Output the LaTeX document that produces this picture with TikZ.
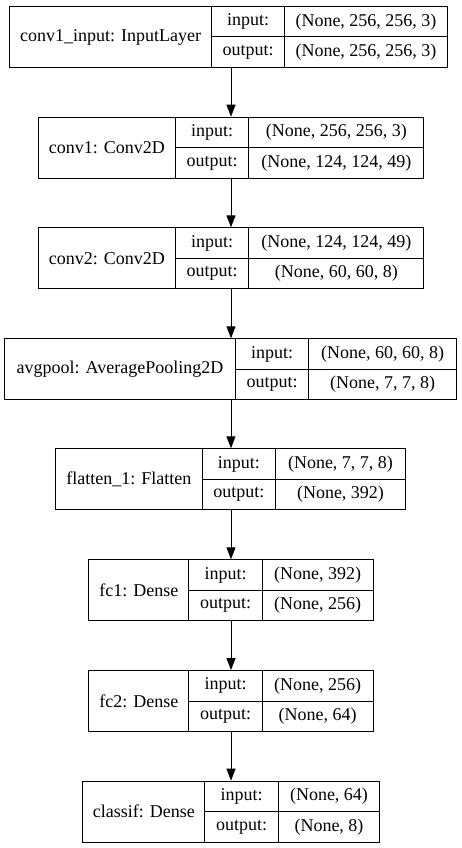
\documentclass[tikz,border=0pt]{standalone}
\usepackage{fontspec}
\setmainfont{Liberation Serif}
\usepackage{tikz}
\usetikzlibrary{arrows.meta}
\tikzset{cell/.style={draw, line width=1pt, inner sep=0pt, anchor=north west,
                      font=\fontsize{18}{20}\selectfont}}
% #1 name, #2 top, #3-#6 column edges, #7 layer, #8 input, #9 output
\newcommand{\layer}[9]{%
    \node[cell, minimum width={#4pt-#3pt}, minimum height=61pt] (#1) at (#3,#2) {#7};
    \node[cell, minimum width={#5pt-#4pt}, minimum height=30.5pt] (#1in) at (#4,#2) {input:};
    \node[cell, minimum width={#5pt-#4pt}, minimum height=30.5pt] (#1out) at (#4,#2+30.5) {output:};
    \node[cell, minimum width={#6pt-#5pt}, minimum height=30.5pt] (#1inv) at (#5,#2) {#8};
    \node[cell, minimum width={#6pt-#5pt}, minimum height=30.5pt] (#1outv) at (#5,#2+30.5) {#9};
    \coordinate (#1top) at (231,#2);
    \coordinate (#1bot) at (231,#2+61);
}
\tikzstyle{arrow} = [line width=1pt,->,>={Triangle[length=12pt,width=9pt]}]

\begin{document}
\begin{tikzpicture}[x=1pt,y=-1pt]
    \useasboundingbox (0,0) rectangle (461,848);

    \layer{input}{6}{9}{211}{284}{447}{conv1\_input: InputLayer}{(None, 256, 256, 3)}{(None, 256, 256, 3)}
    \layer{conva}{116.7}{37.7}{175}{248.3}{423.3}{conv1: Conv2D}{(None, 256, 256, 3)}{(None, 124, 124, 49)}
    \layer{convb}{227.3}{37.7}{175}{248.3}{423.3}{conv2: Conv2D}{(None, 124, 124, 49)}{(None, 60, 60, 8)}
    \layer{pool}{338.3}{4}{235}{308.3}{456}{avgpool: AveragePooling2D}{(None, 60, 60, 8)}{(None, 7, 7, 8)}
    \layer{flat}{448.3}{55}{201.7}{275}{405}{flatten\_1: Flatten}{(None, 7, 7, 8)}{(None, 392)}
    \layer{fca}{559.3}{88.3}{188.3}{261.7}{372.7}{fc1: Dense}{(None, 392)}{(None, 256)}
    \layer{fcb}{670}{88.3}{188.3}{261.7}{372.7}{fc2: Dense}{(None, 256)}{(None, 64)}
    \layer{classif}{780.7}{82.3}{204.3}{277.7}{379.3}{classif: Dense}{(None, 64)}{(None, 8)}

    \draw [arrow] (inputbot) -- (convatop);
    \draw [arrow] (convabot) -- (convbtop);
    \draw [arrow] (convbbot) -- (pooltop);
    \draw [arrow] (poolbot) -- (flattop);
    \draw [arrow] (flatbot) -- (fcatop);
    \draw [arrow] (fcabot) -- (fcbtop);
    \draw [arrow] (fcbbot) -- (classiftop);
\end{tikzpicture}
\end{document}
